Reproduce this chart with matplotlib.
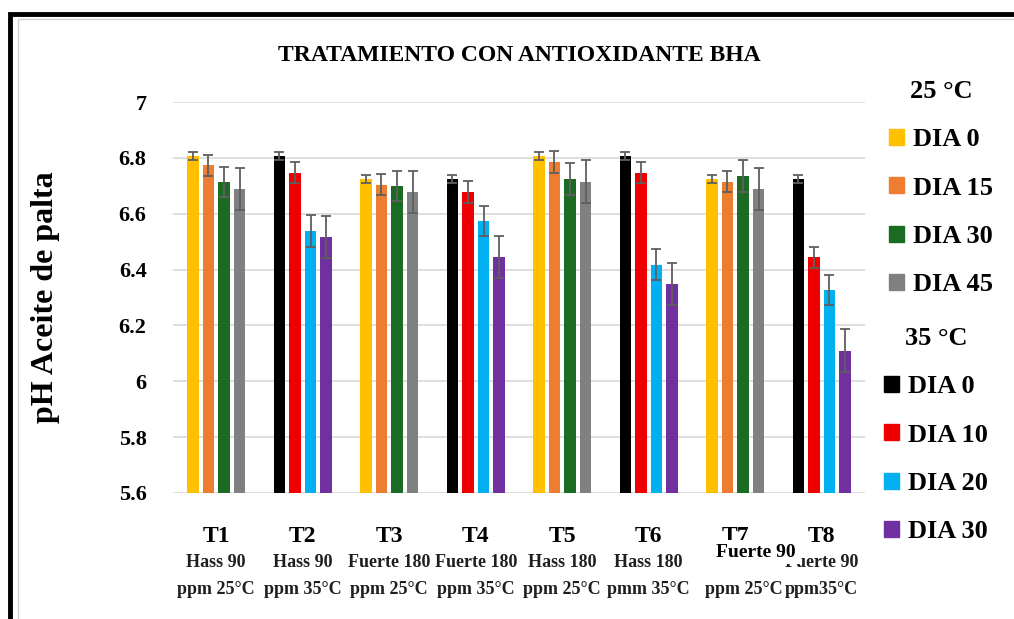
import numpy as np
import matplotlib
matplotlib.use("Agg")
import matplotlib.pyplot as plt
from matplotlib.patches import Patch, Rectangle

plt.rcParams['font.family'] = ['Liberation Serif', 'DejaVu Serif']
plt.rcParams['font.weight'] = 'bold'

# Datos
grupos = ["T1", "T2", "T3", "T4", "T5", "T6", "T7", "T8"]
variedad = ["Hass 90", "Hass 90", "Fuerte 180", "Fuerte 180", "Hass 180", "Hass 180", "Fuerte 90", "Fuerte 90"]
condicion = ["ppm 25°C", "ppm 35°C", "ppm 25°C", "ppm 35°C", "ppm 25°C", "pmm 35°C", "ppm 25°C", "ppm35°C"]
temp_grupo = [25, 35, 25, 35, 25, 35, 25, 35]

dias_25 = ["DIA 0", "DIA 15", "DIA 30", "DIA 45"]
dias_35 = ["DIA 0", "DIA 10", "DIA 20", "DIA 30"]
colores_25 = ["#FFC000", "#ED7D31", "#1B6B25", "#808080"]
colores_35 = ["#000000", "#EE0000", "#00B0F0", "#7030A0"]

# pH por tratamiento: 4 dias cada uno
ph = np.array([
    [6.807, 6.773, 6.714, 6.687],
    [6.807, 6.747, 6.537, 6.516],
    [6.724, 6.704, 6.698, 6.677],
    [6.725, 6.677, 6.574, 6.444],
    [6.807, 6.785, 6.725, 6.715],
    [6.807, 6.747, 6.418, 6.347],
    [6.724, 6.715, 6.736, 6.687],
    [6.725, 6.444, 6.326, 6.110],
])
err = np.array([
    [0.014, 0.037, 0.054, 0.075],
    [0.014, 0.037, 0.057, 0.076],
    [0.014, 0.038, 0.054, 0.076],
    [0.014, 0.040, 0.054, 0.075],
    [0.014, 0.038, 0.057, 0.076],
    [0.014, 0.037, 0.057, 0.075],
    [0.014, 0.038, 0.057, 0.075],
    [0.014, 0.038, 0.054, 0.076],
])

fig = plt.figure(figsize=(10.14, 6.19), dpi=100)
ax = fig.add_axes([0.1706, 0.2036, 0.853 - 0.1706, 0.8352 - 0.2036])

x = np.arange(len(grupos))
ancho = 0.135
paso = 0.18
for i in range(len(grupos)):
    cols = colores_25 if temp_grupo[i] == 25 else colores_35
    for j in range(4):
        ax.bar(x[i] + (j - 1.5) * paso, ph[i, j], ancho, bottom=0,
               color=cols[j], yerr=err[i, j], zorder=3,
               error_kw=dict(ecolor='#5f5f5f', capsize=3.6, elinewidth=1.3, capthick=1.3))

ax.set_ylim(5.6, 7.0)
ax.set_xlim(-0.5, 7.5)
ax.set_yticks(np.arange(5.6, 7.01, 0.2))
ax.set_yticklabels(["5.6", "5.8", "6", "6.2", "6.4", "6.6", "6.8", "7"], fontsize=16)
ax.set_xticks(x)
ax.set_xticklabels(grupos, fontsize=17)
ax.tick_params(length=0)
ax.tick_params(axis='y', pad=19)
ax.tick_params(axis='x', pad=24)
ax.grid(axis='y', color='#d9d9d9', lw=1.2, zorder=0)
for s in ax.spines.values():
    s.set_visible(False)

# subetiquetas
for i in range(len(grupos)):
    if i == 6:
        # en el original esta etiqueta tapa parte de "T7"
        ax.text(x[i] + 0.24, -0.151, variedad[i], transform=ax.get_xaxis_transform(),
                ha='center', va='center', fontsize=14, color='black', zorder=5,
                bbox=dict(facecolor='white', edgecolor='none', boxstyle='square,pad=0.2'))
    else:
        ax.text(x[i], -0.179, variedad[i], transform=ax.get_xaxis_transform(),
                ha='center', va='center', fontsize=13, color='#1f1f1f')
    ax.text(x[i] + (0.1 if i == 6 else 0), -0.248, condicion[i], transform=ax.get_xaxis_transform(),
            ha='center', va='center', fontsize=13, color='#1f1f1f')

ax.set_ylabel("pH Aceite de palta", fontsize=23, fontweight='bold')
ax.yaxis.set_label_coords(-0.163, 0.5)
fig.text(0.512, 0.91, "TRATAMIENTO CON ANTIOXIDANTE BHA", ha='center', va='center', fontsize=17)

# leyendas
h25 = [Patch(color=c) for c in colores_25]
h35 = [Patch(color=c) for c in colores_35]
kw = dict(frameon=False, fontsize=19, handlelength=0.55, handleheight=0.55,
          handletextpad=0.35, labelspacing=0.96, borderpad=0, borderaxespad=0,
          title_fontproperties={'size': 19, 'weight': 'bold'})
leg1 = fig.legend(h25, dias_25, title="25 °C", loc='upper left',
                  bbox_to_anchor=(889 / 1014, 1 - 80 / 619), **kw)
leg2 = fig.legend(h35, dias_35, title="35 °C", loc='upper left',
                  bbox_to_anchor=(884 / 1014, 1 - 327 / 619), **kw)

# marco
fig.patches.append(Rectangle((10 / 1014, -0.1), 1.2, 1.1 - 14 / 619, fill=False,
                             lw=3.5, edgecolor='black', transform=fig.transFigure))
fig.patches.append(Rectangle((18 / 1014, -0.1), 1.2, 1.1 - 19 / 619, fill=False,
                             lw=1, edgecolor='#d0d0d0', transform=fig.transFigure))

fig.savefig("out.png", dpi=100)
